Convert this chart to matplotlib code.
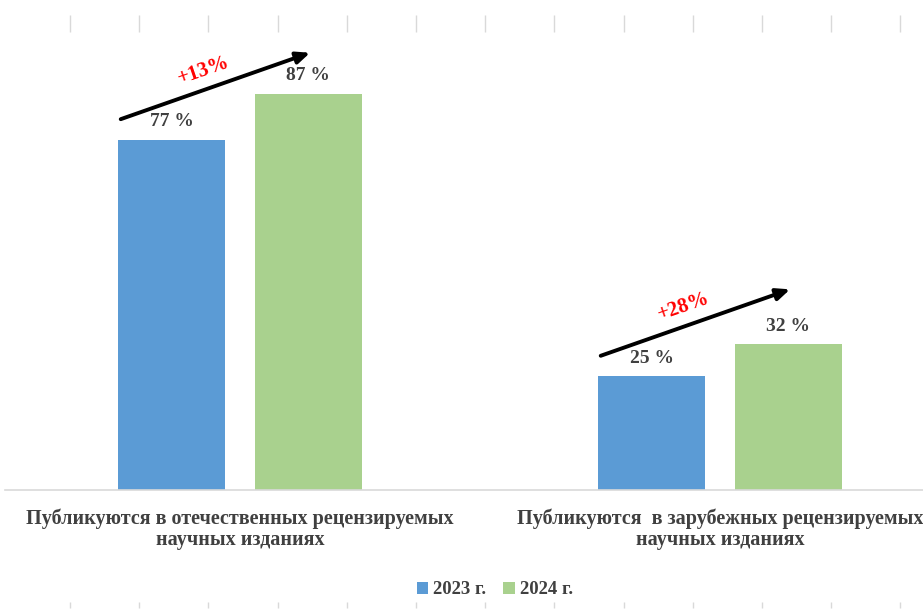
import numpy as np
import matplotlib.pyplot as plt

# Data
categories = ['Публикуются в отечественных рецензируемых\nнаучных изданиях',
              'Публикуются  в зарубежных рецензируемых\nнаучных изданиях']
years = ['2023 г.', '2024 г.']
values_2023 = [77, 25]
values_2024 = [87, 32]
growth_labels = ['+13%', '+28%']

colors = ['#5B9BD5', '#A9D18E']
text_gray = '#404040'

plt.rcParams['font.family'] = ['Liberation Serif', 'DejaVu Serif']
plt.rcParams['font.weight'] = 'bold'

fig = plt.figure(figsize=(9.23, 6.16), dpi=100)
W, H = 923, 616

# main axes: extends a bit beyond the right edge (the original is cropped)
ax = fig.add_axes([5 / W, (H - 490) / H, 955 / W, 455 / H])

x = np.arange(len(categories))
w = 0.223
off = 0.142
b1 = ax.bar(x - off, values_2023, w, color=colors[0], label=years[0])
b2 = ax.bar(x + off, values_2024, w, color=colors[1], label=years[1])

for bars in (b1, b2):
    for rect in bars:
        v = rect.get_height()
        ax.annotate(f'{v:.0f} %', (rect.get_x() + rect.get_width() / 2, v),
                    xytext=(0, 7), textcoords='offset points', ha='center', va='bottom',
                    fontsize=14, fontweight='bold', color=text_gray)

# growth arrows
for i in range(len(categories)):
    x0 = x[i] - off - w / 2 + 0.005
    y0 = values_2023[i] + 4.5
    x1 = x[i] + off + 0.004
    y1 = y0 + 14.6
    ax.annotate('', xy=(x1, y1), xytext=(x0, y0),
                arrowprops=dict(arrowstyle='-|>,head_length=0.8,head_width=0.35',
                                color='black', lw=2.8, shrinkA=0, shrinkB=0))
    ax.text(x[i] - 0.075, values_2023[i] + 15.3, growth_labels[i], color='red',
            fontsize=15, fontweight='bold', rotation=19, ha='center', va='center')

ax.set_xlim(-0.5 + 5 / 480, 1.5)
ax.set_ylim(0, 100)
ax.set_yticks([])
ax.set_xticks(x)
ax.set_xticklabels(categories, fontsize=14.5, fontweight='bold', color=text_gray,
                   linespacing=1.12)
ax.tick_params(axis='x', length=0, pad=13)
for s in ('top', 'right', 'left'):
    ax.spines[s].set_visible(False)
ax.spines['bottom'].set_color('#d9d9d9')
ax.spines['bottom'].set_linewidth(1.2)

fig.legend(loc='center', bbox_to_anchor=(495 / W, 1 - 590 / H), ncol=2, frameon=False,
           handlelength=0.6, handleheight=0.6, handletextpad=0.3, columnspacing=0.9,
           prop={'size': 13.5, 'weight': 'bold'}, labelcolor=text_gray)

# faint tick marks of neighbouring slide elements at top and bottom edges
deco = fig.add_axes([0, 0, 1, 1], zorder=-1)
deco.set_xlim(0, W)
deco.set_ylim(H, 0)
deco.axis('off')
marks = 70 + 69.2 * np.arange(13)
deco.vlines(marks, 15, 32, color='#d9d9d9', lw=1)
deco.vlines(marks, 602, 608, color='#d9d9d9', lw=1)

plt.savefig('out.png', dpi=100)
